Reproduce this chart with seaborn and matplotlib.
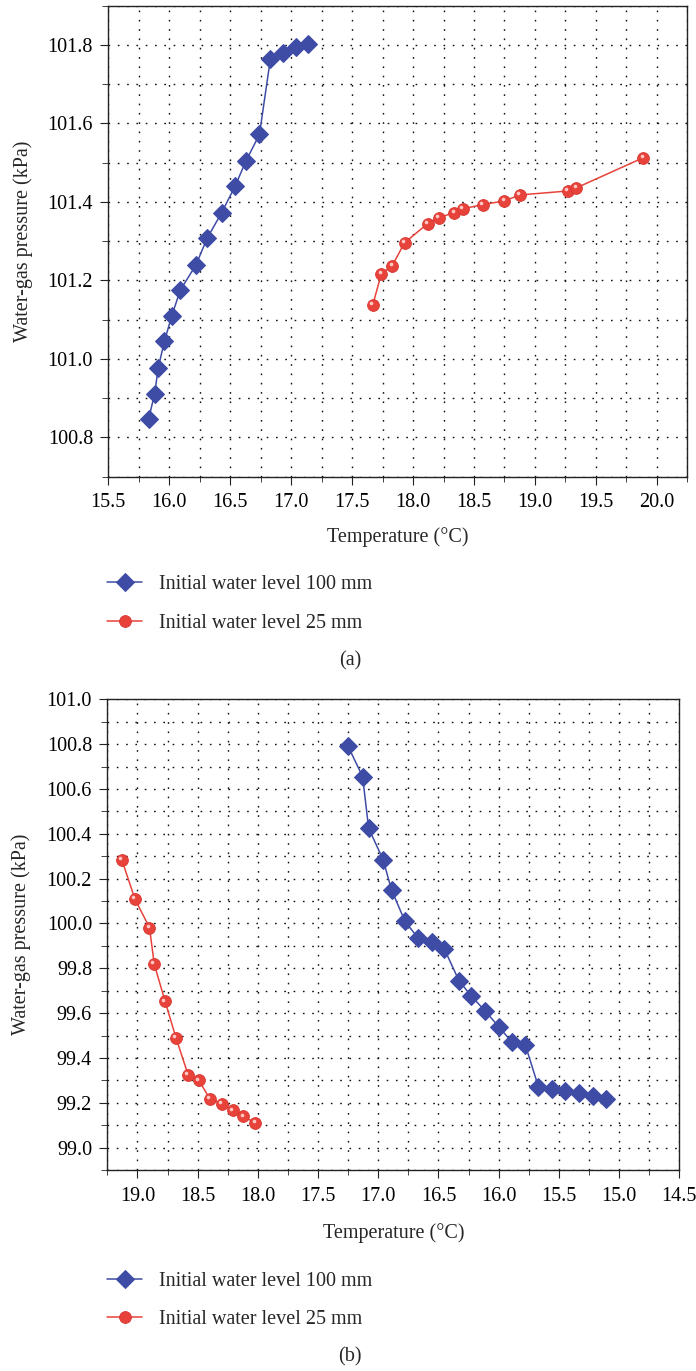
import matplotlib
matplotlib.use("Agg")
import matplotlib.pyplot as plt
from matplotlib.ticker import MultipleLocator, FormatStrFormatter
import matplotlib.transforms as mtransforms
import seaborn as sns
import pandas as pd

# ---------------- data ----------------
# Panel (a)
a_t_100 = [15.83, 15.88, 15.91, 15.96, 16.02, 16.09, 16.22, 16.31, 16.43, 16.54,
           16.63, 16.74, 16.83, 16.93, 17.04, 17.14]
a_p_100 = [100.846, 100.911, 100.978, 101.045, 101.109, 101.175, 101.240, 101.307,
           101.373, 101.440, 101.505, 101.572, 101.765, 101.779, 101.796, 101.802]
a_t_25 = [17.67, 17.74, 17.83, 17.93, 18.12, 18.21, 18.34, 18.41, 18.57, 18.75,
          18.88, 19.27, 19.34, 19.89]
a_p_25 = [101.138, 101.217, 101.238, 101.296, 101.345, 101.360, 101.373, 101.383,
          101.393, 101.403, 101.418, 101.428, 101.436, 101.513]

# Panel (b)
b_t_100 = [17.25, 17.13, 17.08, 16.96, 16.89, 16.78, 16.67, 16.55, 16.45, 16.33,
           16.23, 16.11, 16.00, 15.89, 15.78, 15.67, 15.56, 15.45, 15.33, 15.22, 15.11]
b_p_100 = [100.790, 100.655, 100.425, 100.285, 100.150, 100.012, 99.935, 99.918,
           99.885, 99.745, 99.678, 99.608, 99.540, 99.470, 99.460, 99.272, 99.261,
           99.251, 99.242, 99.230, 99.219]
b_t_25 = [19.13, 19.02, 18.90, 18.86, 18.77, 18.68, 18.58, 18.49, 18.40, 18.30,
          18.21, 18.12, 18.02]
b_p_25 = [100.285, 100.108, 99.982, 99.818, 99.652, 99.490, 99.326, 99.300,
          99.219, 99.194, 99.166, 99.139, 99.110]

a_xticks = [15.5, 16.0, 16.5, 17.0, 17.5, 18.0, 18.5, 19.0, 19.5, 20.0]
a_yticks = [100.8, 101.0, 101.2, 101.4, 101.6, 101.8]
b_xticks = [19.0, 18.5, 18.0, 17.5, 17.0, 16.5, 16.0, 15.5, 15.0, 14.5]
b_yticks = [99.0, 99.2, 99.4, 99.6, 99.8, 100.0, 100.2, 100.4, 100.6, 100.8, 101.0]

labels = ["Initial water level 100 mm", "Initial water level 25 mm"]
x_label = "Temperature (°C)"
y_label = "Water-gas pressure (kPa)"

BLUE = "#3F4CA6"
RED = "#E8433B"
FONT = ["Liberation Serif", "DejaVu Serif"]
FS = 14.5

sns.set_style("ticks")
plt.rcParams["font.family"] = FONT
plt.rcParams["font.size"] = FS
plt.rcParams["axes.linewidth"] = 1.0
plt.rcParams["xtick.major.size"] = 6
plt.rcParams["ytick.major.size"] = 6
plt.rcParams["xtick.minor.size"] = 3.5
plt.rcParams["ytick.minor.size"] = 4.5
plt.rcParams["xtick.major.pad"] = 6
plt.rcParams["ytick.major.pad"] = 5
plt.rcParams["xtick.direction"] = "out"
plt.rcParams["ytick.direction"] = "out"

fig = plt.figure(figsize=(6.96, 13.71), dpi=100)
ax1 = fig.add_axes([0.1556, 0.6523, 0.8319, 0.3435])
ax2 = fig.add_axes([0.1542, 0.1466, 0.8218, 0.3433])


def draw(ax, t100, p100, t25, p25):
    d100 = pd.DataFrame({"T": t100, "P": p100})
    d25 = pd.DataFrame({"T": t25, "P": p25})
    sns.lineplot(data=d100, x="T", y="P", ax=ax, sort=False, estimator=None,
                 color=BLUE, marker="D", markersize=9, markeredgecolor=BLUE,
                 linewidth=1.1, label=labels[0], zorder=3)
    sns.lineplot(data=d25, x="T", y="P", ax=ax, sort=False, estimator=None,
                 color=RED, marker="o", markersize=8.5, markeredgecolor="#D83530",
                 markeredgewidth=0.6, linewidth=1.1, label=labels[1], zorder=3)
    # glossy highlight on the spheres
    off = mtransforms.offset_copy(ax.transData, fig=fig, x=-1.3, y=1.3, units="points")
    ax.plot(t25, p25, linestyle="none", marker="o", markersize=2.6,
            color="#FFC8C4", markeredgewidth=0, transform=off, zorder=4)
    ax.grid(True, which="both", linestyle=(0, (1.2, 5.5)), color="#111111",
            linewidth=1.0)
    for s in ax.spines.values():
        s.set_color("#222222")
        s.set_linewidth(1.0)
    ax.tick_params(which="both", top=False, right=False, colors="#222222",
                   labelcolor="black")
    ax.set_xlabel(x_label)
    ax.set_ylabel(y_label)
    leg = ax.get_legend()
    if leg is not None:
        leg.remove()
    ax.xaxis.set_major_formatter(FormatStrFormatter("%.1f"))
    ax.yaxis.set_major_formatter(FormatStrFormatter("%.1f"))
    ax.xaxis.set_minor_locator(MultipleLocator(0.25))
    ax.yaxis.set_minor_locator(MultipleLocator(0.1))


draw(ax1, a_t_100, a_p_100, a_t_25, a_p_25)
ax1.set_xticks(a_xticks)
ax1.set_yticks(a_yticks)
ax1.set_xlim(15.5, 20.25)
ax1.set_ylim(100.7, 101.9)
ax1.xaxis.set_label_coords(0.5, -0.107)
ax1.yaxis.set_label_coords(-0.13, 0.5)

draw(ax2, b_t_100, b_p_100, b_t_25, b_p_25)
ax2.set_xticks(b_xticks)
ax2.set_yticks(b_yticks)
ax2.set_xlim(19.25, 14.5)
ax2.set_ylim(98.9, 101.0)
ax2.xaxis.set_label_coords(0.5, -0.113)
ax2.yaxis.set_label_coords(-0.133, 0.5)

# legends below each panel
for ax, ycen in [(ax1, 0.5595), (ax2, 0.0515)]:
    handles = ax.get_lines()[:2]
    fig.legend(handles, labels, loc="center left", bbox_to_anchor=(0.154, ycen),
               frameon=False, borderpad=0, borderaxespad=0, handlelength=1.75,
               handletextpad=0.8, labelspacing=0.95, fontsize=FS)

fig.text(0.503, 0.5179, "(a)", ha="center", va="center", fontsize=FS)
fig.text(0.503, 0.0102, "(b)", ha="center", va="center", fontsize=FS)

fig.savefig("out.png", dpi=100)
